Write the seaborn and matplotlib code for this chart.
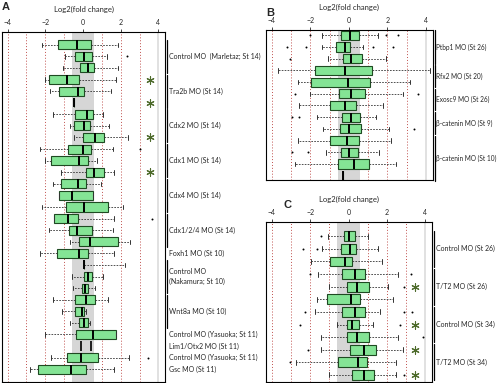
import numpy as np
import pandas as pd
import matplotlib.pyplot as plt
import seaborn as sns

# five-number summaries per row: [whisker low, q1, median, q3, whisker high]
stats_a = [
    [-2.18, -1.35, -0.30, 0.40, 1.83],
    [-0.96, -0.40, 0.03, 0.49, 1.27],
    [-1.05, -0.18, 0.26, 0.60, 1.83],
    [-2.04, -1.83, -0.84, -0.23, 1.74],
    [-1.75, -1.28, -0.26, 0.03, 1.48],
    [-0.49, -0.49, -0.49, -0.49, -0.49],
    [-1.62, -0.40, 0.23, 0.55, 1.05],
    [-0.70, -0.49, 0.03, 0.35, 1.36],
    [-0.50, 0.00, 0.65, 1.13, 2.40],
    [-2.30, -0.80, 0.00, 0.40, 1.60],
    [-2.00, -1.70, -0.20, 0.26, 0.75],
    [-1.17, 0.17, 0.60, 1.13, 1.65],
    [-1.60, -1.17, -0.26, 0.17, 0.96],
    [-1.28, -1.28, -0.60, 0.52, 0.52],
    [-2.20, -0.93, 0.03, 1.34, 2.10],
    [-1.54, -1.54, -0.78, -0.26, 1.65],
    [-1.83, -0.75, -0.33, 0.49, 1.57],
    [-0.70, -0.20, 0.35, 1.86, 2.49],
    [-2.27, -1.40, -0.21, 0.29, 1.62],
    [0.03, 0.03, 0.03, 0.03, 2.23],
    [-0.60, 0.05, 0.29, 0.49, 1.04],
    [-0.52, -0.07, 0.12, 0.26, 0.64],
    [-1.57, -0.40, 0.14, 0.66, 1.34],
    [-1.14, -0.40, -0.04, 0.03, 0.17],
    [-0.70, -0.19, 0.03, 0.29, 0.35],
    [-2.00, -0.39, 0.55, 1.74, 1.74],
    None,
    [-1.70, -0.84, -0.09, 0.79, 2.44],
    [-2.80, -2.39, -0.65, 0.17, 1.65],
]
outliers_a = [(1, 2.35), (9, 3.0), (15, 3.66), (27, 3.45)]
marks_a = [(26, -0.12), (26, 0.40)]
stars_a = [3, 5, 8, 11]
groups_a = [
    (0, 2, "Control MO  (Marletaz; St 14)", True),
    (3, 5, "Tra2b MO (St 14)", True),
    (6, 8, "Cdx2 MO (St 14)", True),
    (9, 11, "Cdx1 MO (St 14)", True),
    (12, 14, "Cdx4 MO (St 14)", True),
    (15, 17, "Cdx1/2/4 MO (St 14)", True),
    (18, 18, "Foxh1 MO (St 10)", False),
    (19, 21, "Control MO\n(Nakamura; St 10)", True),
    (22, 24, "Wnt8a MO (St 10)", True),
    (25, 25, "Control MO (Yasuoka; St 11)", False),
    (26, 26, "Lim1/Otx2 MO (St 11)", False),
    (27, 27, "Control MO (Yasuoka; St 11)", False),
    (28, 28, "Gsc MO (St 11)", False),
]

stats_b = [
    [-1.41, -0.41, 0.05, 0.54, 1.52],
    [-1.41, -0.69, -0.20, 0.05, 0.71],
    [-1.10, -0.29, 0.10, 0.69, 1.95],
    [-3.70, -1.76, -0.20, 1.21, 4.20],
    [-2.66, -1.97, -0.03, 1.09, 3.16],
    [-2.02, -0.52, 0.10, 0.83, 2.82],
    [-2.59, -0.98, -0.20, 0.36, 1.75],
    [-1.67, -0.38, 0.10, 0.57, 1.43],
    [-1.33, -0.46, 0.00, 0.62, 2.07],
    [-2.66, -0.98, -0.12, 0.52, 2.21],
    [-1.21, -0.41, 0.00, 0.49, 1.55],
    [-2.80, -0.55, 0.26, 1.04, 2.44],
    [-0.33, -0.33, -0.33, -0.33, -0.33],
]
outliers_b = [(0, -2.0), (0, 1.95), (0, 2.55), (1, -3.23), (1, -2.24), (1, 1.26),
              (1, 2.3), (2, -3.06), (5, -2.8), (5, 3.6), (7, -2.95), (7, -2.6),
              (8, 3.39), (10, -2.97), (10, -2.14)]
groups_b = [
    (0, 2, "Ptbp1 MO (St 26)", True),
    (3, 4, "Rfx2 MO (St 20)", True),
    (5, 6, "Exosc9 MO (St 26)", True),
    (7, 8, "β-catenin MO (St 9)", True),
    (9, 12, "β-catenin MO (St 10)", True),
]

stats_c = [
    [-1.07, -0.24, 0.00, 0.31, 1.00],
    [-1.38, -0.41, 0.05, 0.36, 1.55],
    [-1.97, -0.98, -0.20, 0.19, 1.75],
    [-1.59, -0.33, 0.35, 0.83, 2.57],
    [-1.02, -0.07, 0.44, 1.04, 2.05],
    [-1.63, -1.11, 0.10, 0.61, 2.30],
    [-1.76, -0.33, 0.31, 0.83, 1.64],
    [-0.59, -0.07, 0.18, 0.52, 1.26],
    [-1.42, -0.08, 0.44, 1.04, 2.57],
    [-1.46, 0.05, 0.80, 1.44, 2.82],
    [-2.72, -0.55, 0.49, 0.97, 2.48],
    [-1.02, 0.19, 0.80, 1.32, 2.48],
]
outliers_c = [(0, -1.45), (1, -2.37), (1, -1.67), (3, -2.0), (3, 3.26), (4, 2.87),
              (6, -2.28), (6, 2.9), (6, 3.28), (7, -2.55), (7, 2.65), (8, 3.85),
              (9, -2.11), (10, -3.06), (11, 2.9)]
stars_c = [4, 7, 9, 11]
groups_c = [
    (0, 2, "Control MO (St 26)", True),
    (3, 5, "T/T2 MO (St 26)", True),
    (6, 8, "Control MO (St 34)", True),
    (9, 11, "T/T2 MO (St 34)", True),
]

sns.set_style("white")
plt.rcParams['font.family'] = ['Lato', 'DejaVu Sans']

BOX = "#84e495"
EDGE = "#1f4a22"
STAR = "#4e6b2c"


def panel(ax, stats, outliers, stars, star_x, groups, ylim, marks=(), label_size=5):
    n = len(stats)
    rows = []
    for i, s in enumerate(stats):
        if s is None:
            continue
        for v in s:
            rows.append((str(i), v))
    df = pd.DataFrame(rows, columns=["row", "value"])
    order = [str(i) for i in range(n)]

    ax.axvspan(-0.585, 0.585, color="#d6d6d6", lw=0, zorder=0)
    for x in [-4, -3, -2, -1, 1, 2, 3]:
        ax.axvline(x, color="#c0504d", ls=(0, (1, 2)), lw=0.7, zorder=0.5)
    ax.axvline(4, color="#dcdcdc", lw=1.2, zorder=0.5)

    sns.boxplot(data=df, x="value", y="row", order=order, orient="h", ax=ax,
                whis=(0, 100), width=0.78, color=BOX, saturation=1,
                linecolor=EDGE, linewidth=0.8, showfliers=False,
                medianprops=dict(color="black", linewidth=1.4),
                whiskerprops=dict(color="#333333", linestyle=(0, (2, 1.5)), linewidth=0.6),
                capprops=dict(color="#333333", linewidth=0.7))

    if outliers:
        oy, ox = zip(*outliers)
        sns.scatterplot(x=list(ox), y=list(oy), ax=ax, color="black", s=2,
                        linewidth=0, zorder=5, legend=False)
    if marks:
        my, mx = zip(*marks)
        sns.scatterplot(x=list(mx), y=list(my), ax=ax, color="black", marker="|",
                        s=45, linewidth=1.2, zorder=5, legend=False)
    if stars:
        ax.scatter([star_x] * len(stars), stars, marker=(6, 2, 0), s=28,
                   color=STAR, linewidths=0.8, zorder=6)

    ax.set_xlim(-4.3, 4.35)
    ax.set_ylim(*ylim)
    ax.set_yticks([])
    ax.set_ylabel("")
    ax.set_xticks([-4, -2, 0, 2, 4])
    ax.xaxis.tick_top()
    ax.xaxis.set_label_position("top")
    ax.set_xlabel("Log2(fold change)", fontsize=5.5, labelpad=5)
    ax.tick_params(axis="x", length=2.5, width=0.6, labelsize=5, pad=2, top=True,
                   bottom=False)
    for sp in ax.spines.values():
        sp.set_color("black")
        sp.set_linewidth(0.8)

    tr = ax.get_yaxis_transform()
    for a, b, label, bracket in groups:
        if bracket:
            ax.plot([1.012, 1.012], [a - 0.42, b + 0.42], transform=tr,
                    color="black", lw=0.9, clip_on=False)
        ax.text(1.022, (a + b) / 2, label, transform=tr, fontsize=label_size,
                va="center", ha="left", linespacing=1.5)


fig = plt.figure(figsize=(5, 3.83), dpi=100)
ax_a = fig.add_axes([0.004, 0.0026, 0.326, 0.9138])
ax_b = fig.add_axes([0.532, 0.530, 0.3334, 0.3916])
ax_c = fig.add_axes([0.532, 0.0026, 0.3324, 0.4178])

panel(ax_a, stats_a, outliers_a, stars_a, 3.58, groups_a, (29.1, -1.1), marks_a)
panel(ax_b, stats_b, outliers_b, [], 3.5, groups_b, (12.37, -0.45), label_size=4.7)
panel(ax_c, stats_c, outliers_c, stars_c, 3.47, groups_c, (11.56, -1.13))

for x, y, t in [(0.004, 1 - 7 / 383, "A"), (0.532, 1 - 13 / 383, "B"),
                (0.566, 1 - 205 / 383, "C")]:
    fig.text(x, y, t, fontsize=8, fontweight="bold", family="Liberation Sans",
             va="center", ha="left")

fig.savefig("out.png", dpi=100)
